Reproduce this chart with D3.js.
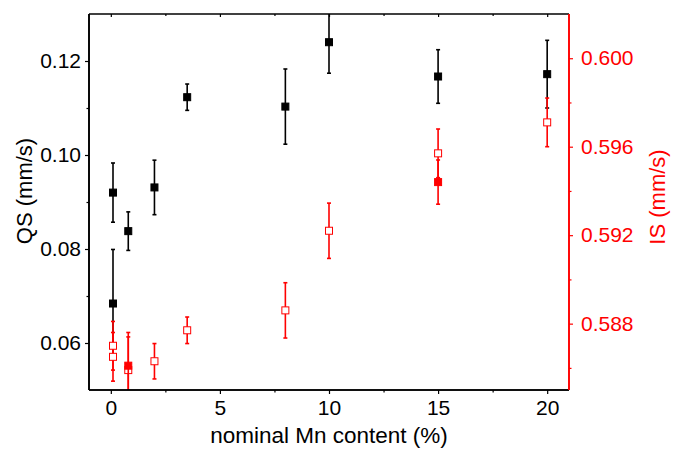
<!DOCTYPE html>
<html>
<head>
<meta charset="utf-8">
<script src="https://cdn.jsdelivr.net/npm/d3@7"></script>
<style>
  body { margin: 0; background: #fff; }
  svg { display: block; font-family: "Liberation Sans", Arial, sans-serif; }
</style>
</head>
<body>
<script>
// QS series (left axis, black filled squares)
var qsX = [0.1, 0.1, 0.8, 2, 3.5, 8, 10, 15, 20];
var qsVal = [0.0920, 0.0684, 0.0838, 0.0931, 0.1123, 0.1103, 0.1240, 0.1167, 0.1172];
var qsErr = [0.0063, 0.0115, 0.0041, 0.0058, 0.0028, 0.0080, 0.0066, 0.0057, 0.0072];

// IS series, open red squares (right axis)
var isOpenX = [0.1, 0.1, 0.8, 2, 3.5, 8, 10, 15, 20];
var isOpenVal = [0.5870, 0.5865, 0.5859, 0.5863, 0.5877, 0.5886, 0.5922, 0.5957, 0.5971];
var isOpenErr = [0.0011, 0.0011, 0.0015, 0.0008, 0.0006, 0.00125, 0.00125, 0.0011, 0.0011];

// IS series, filled red squares (right axis)
var isFillX = [0.8, 15];
var isFillVal = [0.5861, 0.5944];
var isFillErr = [0.0015, 0.0010];

var xTicks = [0, 5, 10, 15, 20];
var xMinor = [2.5, 7.5, 12.5, 17.5];
var qsTicks = [0.06, 0.08, 0.10, 0.12];
var qsMinor = [0.07, 0.09, 0.11];
var isTicks = [0.588, 0.592, 0.596, 0.600];
var isMinor = [0.586, 0.590, 0.594, 0.598];

var W = 690, H = 449;
var margin = { top: 14, right: 121, bottom: 59, left: 89 };
var w = W - margin.left - margin.right;
var h = H - margin.top - margin.bottom;
var red = "#ff0000";

var x = d3.scaleLinear().domain([-1, 21]).range([0, w]);
var yL = d3.scaleLinear().domain([0.05, 0.13]).range([h, 0]);
var yR = d3.scaleLinear().domain([0.585, 0.602]).range([h, 0]);

var svg = d3.select("body").append("svg")
    .attr("width", W)
    .attr("height", H);

svg.append("defs").append("clipPath").attr("id", "clip")
    .append("rect").attr("width", w).attr("height", h);

var g = svg.append("g")
    .attr("transform", "translate(" + margin.left + "," + margin.top + ")");

var plot = g.append("g").attr("clip-path", "url(#clip)");

function drawSeries(xs, vals, errs, y, color, filled) {
    var data = xs.map(function(d, i) { return { x: d, v: vals[i], e: errs[i] }; });
    var grp = plot.append("g");
    var eb = grp.selectAll("g.eb").data(data).enter().append("g")
        .attr("stroke", color).attr("stroke-width", 1.6);
    eb.append("line")
        .attr("x1", function(d) { return x(d.x); })
        .attr("x2", function(d) { return x(d.x); })
        .attr("y1", function(d) { return y(d.v + d.e); })
        .attr("y2", function(d) { return y(d.v - d.e); });
    [1, -1].forEach(function(s) {
        eb.append("line")
            .attr("x1", function(d) { return x(d.x) - 2; })
            .attr("x2", function(d) { return x(d.x) + 2; })
            .attr("y1", function(d) { return y(d.v + s * d.e); })
            .attr("y2", function(d) { return y(d.v + s * d.e); });
    });
    grp.selectAll("rect").data(data).enter().append("rect")
        .attr("x", function(d) { return x(d.x) - 3.5; })
        .attr("y", function(d) { return y(d.v) - 3.5; })
        .attr("width", 7)
        .attr("height", 7)
        .attr("fill", filled ? color : "#fff")
        .attr("stroke", color)
        .attr("stroke-width", 1);
}

drawSeries(qsX, qsVal, qsErr, yL, "#000", true);
drawSeries(isOpenX, isOpenVal, isOpenErr, yR, red, false);
drawSeries(isFillX, isFillVal, isFillErr, yR, red, true);

// bottom axis
var bottomAx = g.append("g").attr("transform", "translate(0," + h + ")");
bottomAx.call(d3.axisBottom(x).tickValues(xTicks).tickSize(4).tickPadding(6).tickFormat(d3.format("d")));
bottomAx.append("g").call(d3.axisBottom(x).tickValues(xMinor).tickSize(2.5).tickFormat(""));

// top axis (ticks inward)
var topAx = g.append("g");
topAx.call(d3.axisBottom(x).tickValues(xTicks).tickSize(3).tickFormat(""));
topAx.append("g").call(d3.axisBottom(x).tickValues(xMinor).tickSize(2).tickFormat(""));
topAx.selectAll(".domain").remove();
topAx.append("line").attr("x1", 0).attr("x2", w).attr("stroke", "#000").attr("stroke-width", 1.6);

// left axis
var leftAx = g.append("g");
leftAx.call(d3.axisLeft(yL).tickValues(qsTicks).tickSize(4).tickPadding(4).tickFormat(d3.format(".2f")));
leftAx.append("g").call(d3.axisLeft(yL).tickValues(qsMinor).tickSize(2.5).tickFormat(""));

// right axis
var rightAx = g.append("g").attr("transform", "translate(" + w + ",0)");
rightAx.call(d3.axisRight(yR).tickValues(isTicks).tickSize(4).tickPadding(8).tickFormat(d3.format(".3f")));
rightAx.append("g").call(d3.axisRight(yR).tickValues(isMinor).tickSize(2.5).tickFormat(""));

g.selectAll(".domain").attr("stroke-width", 1.6);
bottomAx.selectAll(".domain").attr("d", "M0,0H" + w);
leftAx.selectAll(".domain").attr("d", "M0,0V" + h);
rightAx.selectAll(".domain").attr("d", "M0,0V" + h);
g.selectAll(".tick line").attr("stroke-width", 1.2);
g.selectAll(".tick text").attr("font-size", 21).attr("font-family", "Liberation Sans, Arial, sans-serif").attr("fill", "#000");
rightAx.selectAll("path, line").attr("stroke", red);
rightAx.selectAll(".tick text").attr("fill", red);

// axis titles
svg.append("text")
    .attr("x", margin.left + x(10))
    .attr("y", 443)
    .attr("text-anchor", "middle")
    .attr("font-size", 22.5)
    .text("nominal Mn content (%)");

svg.append("text")
    .attr("transform", "translate(32,191) rotate(-90)")
    .attr("text-anchor", "middle")
    .attr("font-size", 22)
    .text("QS (mm/s)");

svg.append("text")
    .attr("transform", "translate(665,197) rotate(-90)")
    .attr("text-anchor", "middle")
    .attr("font-size", 22)
    .attr("fill", red)
    .text("IS (mm/s)");
</script>
</body>
</html>
